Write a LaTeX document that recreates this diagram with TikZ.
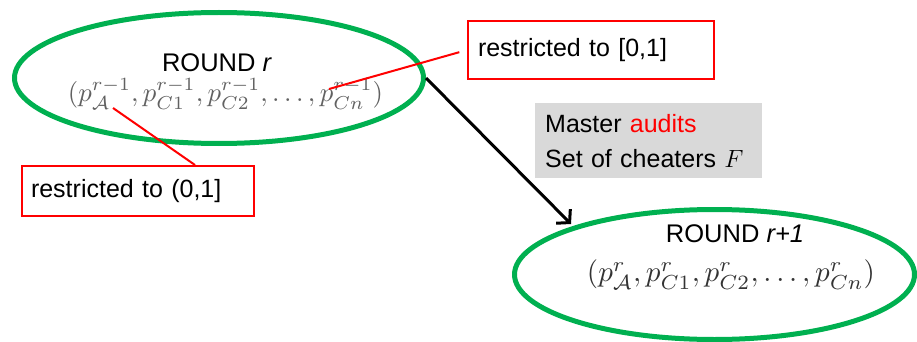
\documentclass[tikz,border=0pt]{standalone}
\usepackage{fontspec}
\setmainfont{Liberation Sans}
\usetikzlibrary{shapes.geometric,arrows.meta}
\definecolor{ovgreen}{HTML}{00B050}
\definecolor{boxred}{HTML}{FF0000}
\definecolor{boxgrey}{HTML}{D9D9D9}
\begin{document}
\begin{tikzpicture}[x=1pt,y=-1pt,
  round/.style={ellipse,draw=ovgreen,line width=5pt,inner sep=0pt},
  lbl/.style={font=\fontsize{25.5}{30}\selectfont,inner sep=0pt},
  mth/.style={inner sep=0pt},
  redbox/.style={draw=boxred,line width=2pt,font=\fontsize{25}{30}\selectfont,align=left,anchor=north west},
  redline/.style={draw=boxred,line width=2pt},
  arr/.style={line width=3pt,-{Straight Barb[length=9pt,width=20pt,line width=3pt]}}
]
\useasboundingbox (0,0) rectangle (917,342);
% ellipses
\node[round,minimum width=409pt,minimum height=131pt] (e1) at (219,78) {};
\node[round,minimum width=400pt,minimum height=130pt] (e2) at (714.5,274.5) {};
% titles
\node[lbl,anchor=base] (t1) at (217,72) {ROUND \textit{r}};
\node[lbl,anchor=base] (t2) at (735,242) {ROUND \textit{r+1}};
% math
\node[mth,text=black!62] (m1) at (225.5,94) {\resizebox{315pt}{!}{$(p^{r-1}_{\mathcal{A}},p^{r-1}_{C1},p^{r-1}_{C2},\ldots,p^{r-1}_{Cn})$}};
\node[mth,text=black!80] (m2) at (731,275) {\resizebox{288pt}{!}{$(p^{r}_{\mathcal{A}},p^{r}_{C1},p^{r}_{C2},\ldots,p^{r}_{Cn})$}};
% boxes
\node[redbox,minimum width=246pt,minimum height=58pt,text width=226pt,inner xsep=10pt,inner ysep=0pt] (b1) at (467,20) {restricted to [0,1]};
\node[redbox,minimum width=232pt,minimum height=50pt,text width=214pt,inner xsep=9pt,inner ysep=0pt] (b2) at (21,165) {restricted to (0,1]};
\node[fill=boxgrey,anchor=north west,minimum width=227pt,minimum height=75pt,text width=207pt,inner xsep=10pt,inner ysep=0pt,align=left,font=\fontsize{25}{35}\selectfont] (g) at (535,103) {Master \textcolor{boxred}{audits}\\Set of cheaters $F$};
% connectors
\coordinate (pa) at (113,108);
\coordinate (pc) at (329,89);
\coordinate (tip) at (571,224);
\draw[redline] (pa) -- (b2.north -| 195,0);
\draw[redline,shorten >=8pt] (pc) -- (b1.west);
\draw[arr] (e1.east) -- (tip);
\end{tikzpicture}
\end{document}
